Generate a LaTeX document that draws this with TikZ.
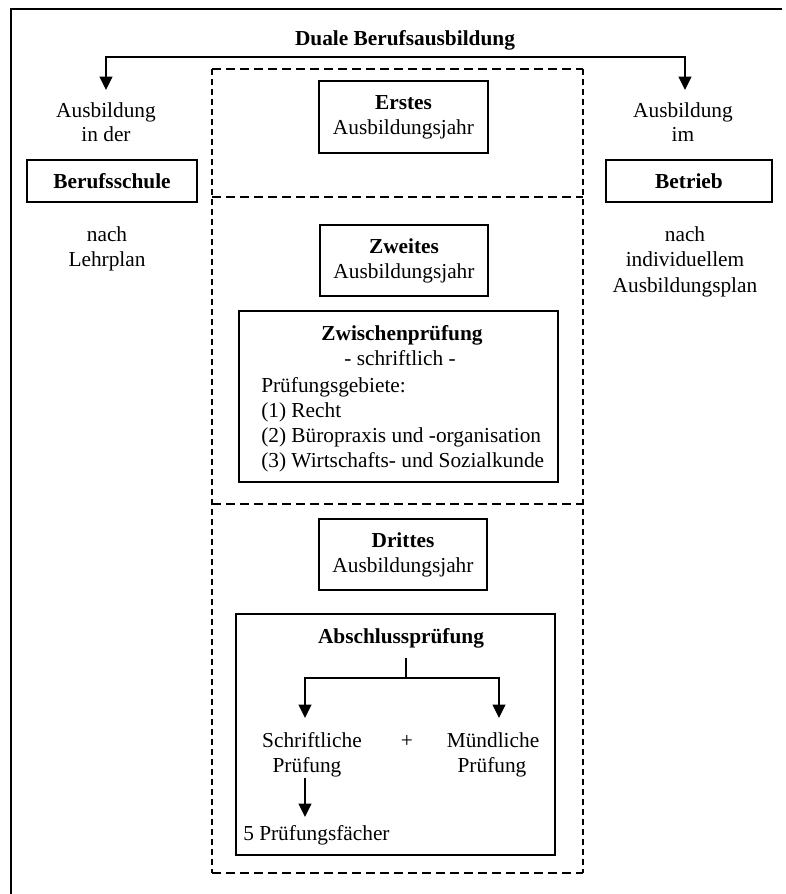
\documentclass[tikz,border=0pt]{standalone}
\usepackage{fontspec}
\setmainfont{Liberation Serif}
\usetikzlibrary{arrows.meta}
\begin{document}
\begin{tikzpicture}[x=0.75pt,y=-0.75pt,
  txt/.style={inner sep=0pt, anchor=base, font=\fontsize{16}{19}\selectfont},
  txtl/.style={txt, anchor=base west},
  box/.style={draw, line width=1.3pt, inner sep=0pt, align=center, font=\fontsize{16}{18.75}\selectfont},
  arr/.style={line width=1.3pt, -{Triangle[length=10pt,width=9.5pt]}},
  ln/.style={line width=1.3pt},
  dashh/.style={line width=1.3pt, dash pattern=on 6.5pt off 4pt},
  dashv/.style={line width=1.3pt, dash pattern=on 4.5pt off 3pt},
  framestyle/.style={line width=2pt}]
\useasboundingbox (0,0) rectangle (786,894);

% outer frame (left and top edges)
\coordinate (fbl) at (11,894);
\coordinate (ftl) at (11,9);
\coordinate (ftr) at (782,9);
\draw[framestyle] (fbl) -- (ftl) -- (ftr);

% title and split
\node[txt] (title) at (405,45) {\textbf{Duale Berufsausbildung}};
\coordinate (split) at (395,57);
\coordinate (tipL) at (106,90);
\coordinate (tipR) at (685,90);
\draw[arr] (split) -| (tipL);
\draw[arr] (split) -| (tipR);

% left column
\node[txt] (ausL) at (106,117) {Ausbildung};
\node[txt] (inder) at (106,141) {in der};
\node[box, minimum width=127.5pt, minimum height=31.5pt] (schule) at (112,181) {\textbf{Berufsschule}};
\node[txt] (nachL) at (107,241) {nach};
\node[txt] (lehrplan) at (107,266) {Lehrplan};

% right column
\node[txt] (ausR) at (683,117) {Ausbildung};
\node[txt] (im) at (683,141) {im};
\node[box, minimum width=124.5pt, minimum height=31.5pt] (betrieb) at (689,181) {\textbf{Betrieb}};
\node[txt] (nachR) at (685,241) {nach};
\node[txt] (indiv) at (685,266) {individuellem};
\node[txt] (plan) at (685,292) {Ausbildungsplan};

% dashed frame with separators
\coordinate (d1) at (212,69);
\coordinate (d2) at (583,69);
\coordinate (d3) at (583,873);
\coordinate (d4) at (212,873);
\coordinate (s1l) at (212,197);
\coordinate (s1r) at (583,197);
\coordinate (s2l) at (212,504);
\coordinate (s2r) at (583,504);
\draw[dashh] (d1) -- (d2);
\draw[dashh] (d4) -- (d3);
\draw[dashv] (d2) -- (d3);
\draw[dashv] (d1) -- (d4);
\draw[dashh] (s1l) -- (s1r);
\draw[dashh] (s2l) -- (s2r);

% first year
\node[box, minimum width=126.75pt, minimum height=54pt] (erstes) at (403.5,117) {\textbf{Erstes}\\Ausbildungsjahr};

% second year
\node[box, minimum width=126pt, minimum height=53.25pt] (zweites) at (404,260.5) {\textbf{Zweites}\\Ausbildungsjahr};
\node[box, minimum width=239.25pt, minimum height=128.25pt] (zwbox) at (398.5,396.5) {};
\node[txt] (zw1) at (402,340) {\textbf{Zwischenprüfung}};
\node[txt] (zw2) at (400,365) {- schriftlich -};
\node[txtl] (zw3) at (261,392) {Prüfungsgebiete:};
\node[txtl] (zw4) at (261,417) {(1) Recht};
\node[txtl] (zw5) at (261,442) {(2) Büropraxis und -organisation};
\node[txtl] (zw6) at (261,467) {(3) Wirtschafts- und Sozialkunde};

% third year
\node[box, minimum width=126pt, minimum height=53.25pt] (drittes) at (403,554.5) {\textbf{Drittes}\\Ausbildungsjahr};
\node[box, minimum width=239.25pt, minimum height=180.75pt] (abbox) at (395.5,734.5) {};
\node[txt] (abs) at (401,643) {\textbf{Abschlussprüfung}};
\coordinate (ftop) at (406,658);
\coordinate (fmid) at (406,678);
\coordinate (tipS) at (305,718);
\coordinate (tipM) at (499,718);
\draw[ln] (ftop) -- (fmid);
\draw[arr] (fmid) -| (tipS);
\draw[arr] (fmid) -| (tipM);
\node[txt] (schr1) at (312,747) {Schriftliche};
\node[txt] (schr2) at (307,772) {Prüfung};
\node[txt] (plus) at (407,747) {+};
\node[txt] (mund1) at (493,747) {Mündliche};
\node[txt] (mund2) at (492,772) {Prüfung};
\coordinate (fstart) at (305,778);
\coordinate (tipF) at (305,817);
\draw[arr] (fstart) -- (tipF);
\node[txtl] (faecher) at (243,840) {5 Prüfungsfächer};
\end{tikzpicture}
\end{document}
